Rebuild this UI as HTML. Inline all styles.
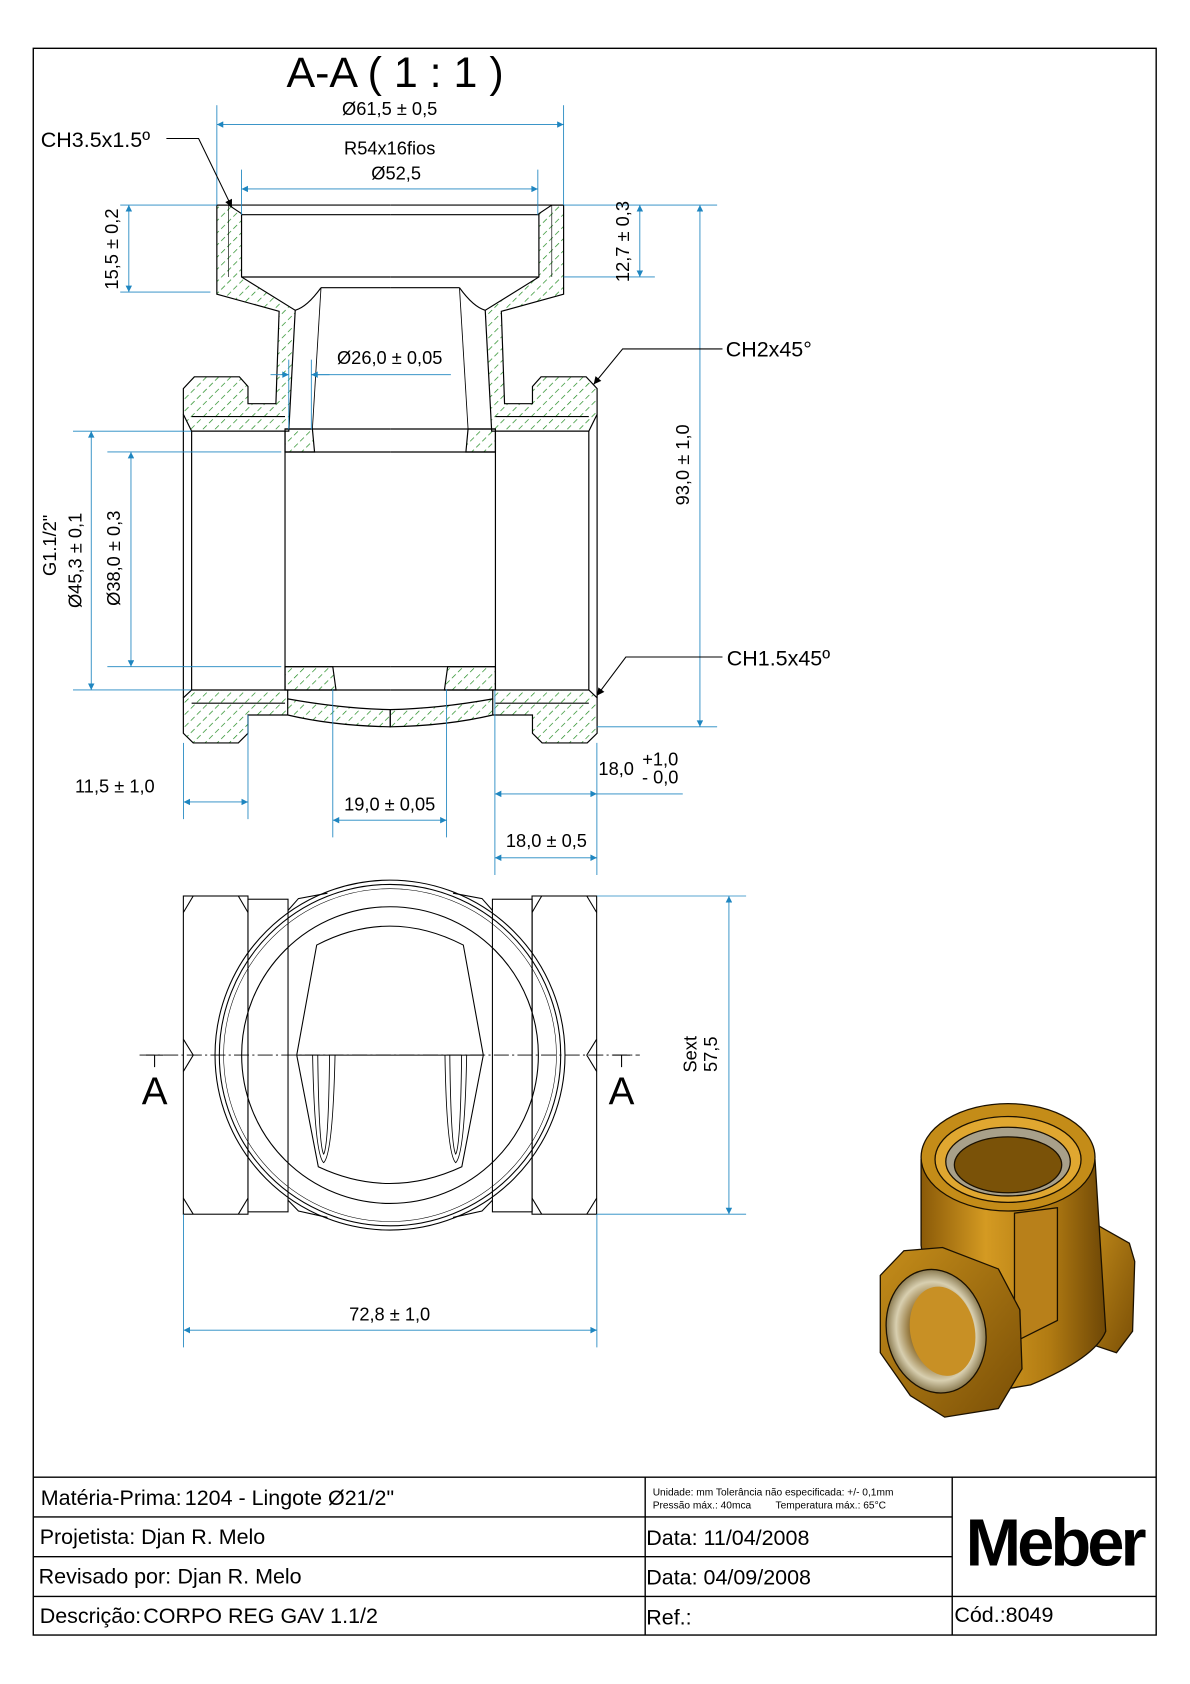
<!DOCTYPE html>
<html><head><meta charset="utf-8"><style>
html,body{margin:0;padding:0;background:#fff;}
svg{display:block;}
text{font-family:"Liberation Sans",sans-serif;}
</style></head><body>
<svg width="1190" height="1684" viewBox="0 0 1108.5 1568.6" preserveAspectRatio="none" xmlns="http://www.w3.org/2000/svg">
<defs>
<pattern id="hatch" patternUnits="userSpaceOnUse" width="8" height="8" patternTransform="rotate(45)">
<line x1="0" y1="0" x2="0" y2="8" stroke="#1f8a1f" stroke-width="1.3" stroke-dasharray="5 3"/>
</pattern>
<marker id="ar" viewBox="0 0 10 10" refX="10" refY="5" markerWidth="11" markerHeight="6" markerUnits="userSpaceOnUse" orient="auto-start-reverse">
<path d="M0,0 L10,5 L0,10 z" fill="#1f86c0"/>
</marker>
<marker id="ak" viewBox="0 0 10 10" refX="10" refY="5" markerWidth="13" markerHeight="7" markerUnits="userSpaceOnUse" orient="auto">
<path d="M0,0 L10,5 L0,10 z" fill="#000"/>
</marker>
<polygon id="p1" points="202,191 213,191 225,199 225,258 275,289 269,401.6 178.5,401.6 170.8,386 170.8,362 181,351 223,351 231,360 231,376 257,376 260,290 202,274"/>
<polygon id="p2" points="265.5,399.6 291,399.6 293,421 265.5,421"/>
<polygon id="p3" points="265.5,621 310,621 313,642.7 265.5,642.7"/>
<path id="p4" d="M170.8,650 L178.5,642.7 L268,642.7 L268,651 Q318,660 363.5,661 L363.5,677 Q310,676 268,666 L231,666 L231,683 L222,692 L180,692 L170.8,683 Z"/>
<clipPath id="hc">
<use href="#p1"/><use href="#p2"/><use href="#p3"/><use href="#p4"/>
<use href="#p1" transform="translate(727,0) scale(-1,1)"/>
<use href="#p2" transform="translate(727,0) scale(-1,1)"/>
<use href="#p3" transform="translate(727,0) scale(-1,1)"/>
<use href="#p4" transform="translate(727,0) scale(-1,1)"/>
</clipPath>
<linearGradient id="gold" x1="0" y1="0" x2="1" y2="0">
<stop offset="0" stop-color="#8a5a08"/><stop offset="0.35" stop-color="#d49a22"/><stop offset="0.7" stop-color="#b07a12"/><stop offset="1" stop-color="#6e4706"/>
</linearGradient>
<linearGradient id="gold2" x1="0" y1="0" x2="1" y2="1">
<stop offset="0" stop-color="#c58d1a"/><stop offset="1" stop-color="#7a4f06"/>
</linearGradient>
<radialGradient id="thr" cx="0.5" cy="0.5" r="0.5">
<stop offset="0.5" stop-color="#8b6a2a"/><stop offset="0.8" stop-color="#d8cfb0"/><stop offset="1" stop-color="#8a7a50"/>
</radialGradient>
</defs>

<rect x="31" y="45" width="1046" height="1478" fill="none" stroke="#000" stroke-width="1.3"/>

<text x="368" y="81" font-size="40" text-anchor="middle">A-A ( 1 : 1 )</text>

<rect x="150" y="180" width="430" height="520" fill="url(#hatch)" clip-path="url(#hc)"/>

<g id="L" fill="none" stroke="#000" stroke-width="1.1">
<use href="#p1"/><use href="#p2"/><use href="#p3"/><use href="#p4"/>
<line x1="213" y1="191" x2="213" y2="258" stroke-width="0.6"/>
<line x1="202" y1="191" x2="363.5" y2="191"/>
<line x1="225" y1="200" x2="363.5" y2="200"/>
<line x1="225" y1="258" x2="363.5" y2="258"/>
<line x1="299" y1="268" x2="363.5" y2="268"/>
<line x1="299" y1="268" x2="291" y2="399.6" stroke-width="0.8"/>
<path d="M275,289 Q286,286 299,268"/>
<line x1="178.5" y1="388" x2="265.5" y2="388"/>
<line x1="265.5" y1="399.6" x2="363.5" y2="399.6"/>
<line x1="265.5" y1="421" x2="363.5" y2="421"/>
<line x1="265.5" y1="621" x2="363.5" y2="621"/>
<line x1="265.5" y1="401.6" x2="265.5" y2="642.7"/>
<line x1="178.5" y1="401.6" x2="178.5" y2="642.7"/>
<line x1="170.8" y1="386" x2="170.8" y2="650"/>
<line x1="178.5" y1="655" x2="265.5" y2="655"/>
<line x1="268" y1="642.7" x2="363.5" y2="642.7"/>
<line x1="268" y1="651" x2="268" y2="666"/>
</g>
<use href="#L" transform="translate(727,0) scale(-1,1)"/>

<g stroke="#1f86c0" stroke-width="0.8" fill="none">
<line x1="202" y1="98" x2="202" y2="191"/><line x1="525" y1="98" x2="525" y2="191"/>
<line x1="202" y1="116" x2="525" y2="116" marker-start="url(#ar)" marker-end="url(#ar)"/>
<line x1="225" y1="158" x2="225" y2="200"/><line x1="501" y1="158" x2="501" y2="200"/>
<line x1="225" y1="176" x2="501" y2="176" marker-start="url(#ar)" marker-end="url(#ar)"/>
<line x1="112" y1="191" x2="202" y2="191"/><line x1="112" y1="272" x2="196" y2="272"/>
<line x1="120" y1="191" x2="120" y2="272" marker-start="url(#ar)" marker-end="url(#ar)"/>
<line x1="525" y1="191" x2="668" y2="191"/><line x1="525" y1="258" x2="610" y2="258"/>
<line x1="596" y1="191" x2="596" y2="258" marker-start="url(#ar)" marker-end="url(#ar)"/>
<line x1="556" y1="677" x2="668" y2="677"/>
<line x1="652" y1="191" x2="652" y2="677" marker-start="url(#ar)" marker-end="url(#ar)"/>
<line x1="269" y1="335" x2="269" y2="400"/><line x1="290" y1="335" x2="290" y2="400"/>
<line x1="252" y1="349" x2="269" y2="349" marker-end="url(#ar)"/>
<line x1="307" y1="349" x2="290" y2="349" marker-end="url(#ar)"/>
<line x1="290" y1="349" x2="420" y2="349"/>
<line x1="68" y1="401.6" x2="178" y2="401.6"/><line x1="68" y1="642.7" x2="178" y2="642.7"/>
<line x1="85" y1="401.6" x2="85" y2="642.7" marker-start="url(#ar)" marker-end="url(#ar)"/>
<line x1="100" y1="421" x2="262" y2="421"/><line x1="100" y1="621" x2="262" y2="621"/>
<line x1="122" y1="421" x2="122" y2="621" marker-start="url(#ar)" marker-end="url(#ar)"/>
<line x1="171" y1="692" x2="171" y2="763"/><line x1="231" y1="666" x2="231" y2="763"/>
<line x1="171" y1="747" x2="231" y2="747" marker-start="url(#ar)" marker-end="url(#ar)"/>
<line x1="310" y1="642" x2="310" y2="780"/><line x1="416" y1="642" x2="416" y2="780"/>
<line x1="310" y1="764" x2="416" y2="764" marker-start="url(#ar)" marker-end="url(#ar)"/>
<line x1="461" y1="643" x2="461" y2="815"/><line x1="556" y1="692" x2="556" y2="815"/>
<line x1="461" y1="739.5" x2="556" y2="739.5" marker-start="url(#ar)" marker-end="url(#ar)"/>
<line x1="556" y1="739.5" x2="636" y2="739.5"/>
<line x1="461" y1="799" x2="556" y2="799" marker-start="url(#ar)" marker-end="url(#ar)"/>
</g>
<g font-size="17" fill="#000">
<text x="363" y="107" text-anchor="middle">Ø61,5 ± 0,5</text>
<text x="363" y="144" text-anchor="middle">R54x16fios</text>
<text x="369" y="167" text-anchor="middle">Ø52,5</text>
<text x="38" y="137" font-size="20">CH3.5x1.5º</text>
<text transform="translate(110,232) rotate(-90)" text-anchor="middle">15,5 ± 0,2</text>
<text transform="translate(586,225) rotate(-90)" text-anchor="middle">12,7 ± 0,3</text>
<text transform="translate(642,433) rotate(-90)" text-anchor="middle">93,0 ± 1,0</text>
<text x="676" y="332" font-size="20">CH2x45°</text>
<text x="677" y="620" font-size="20">CH1.5x45º</text>
<text x="363" y="339" text-anchor="middle">Ø26,0 ± 0,05</text>
<text transform="translate(52,508) rotate(-90)" text-anchor="middle">G1.1/2"</text>
<text transform="translate(76,522) rotate(-90)" text-anchor="middle">Ø45,3 ± 0,1</text>
<text transform="translate(112,520) rotate(-90)" text-anchor="middle">Ø38,0 ± 0,3</text>
<text x="107" y="738" text-anchor="middle">11,5 ± 1,0</text>
<text x="363" y="755" text-anchor="middle">19,0 ± 0,05</text>
<text x="574" y="722" text-anchor="middle">18,0</text>
<text x="615" y="713" text-anchor="middle">+1,0</text>
<text x="615" y="730" text-anchor="middle">- 0,0</text>
<text x="509" y="789" text-anchor="middle">18,0 ± 0,5</text>
</g>
<g stroke="#000" stroke-width="1" fill="none">
<polyline points="155,129 185,129 216,193" marker-end="url(#ak)"/>
<polyline points="673,325 580,325 553,358" marker-end="url(#ak)"/>
<polyline points="673,612 583,612 556,648" marker-end="url(#ak)"/>
</g>

<g fill="none" stroke="#000" stroke-width="1">
<rect x="170.8" y="834.6" width="60.2" height="296.4"/>
<rect x="495.6" y="834.6" width="60.2" height="296.4"/>
<rect x="231" y="837.6" width="37.3" height="291.2"/>
<rect x="458.7" y="837.6" width="37" height="291.2"/>
<path d="M180,834.6 L170.8,850 M170.8,968 L180,982.8 L170.8,998 M170.8,1116 L180,1131 M222,834.6 L231,850 M231,1116 L222,1131"/>
<path d="M546.6,834.6 L555.8,850 M555.8,968 L546.6,982.8 L555.8,998 M555.8,1116 L546.6,1131 M504.6,834.6 L495.6,850 M495.6,1116 L504.6,1131"/>
<path d="M268.3,848 L278,837 L305,832 M458.7,848 L449,837 L422,832 M268.3,1118 L278,1128 L305,1134 M458.7,1118 L449,1128 L422,1134"/>
<circle cx="363.3" cy="982.8" r="163"/>
<circle cx="363.3" cy="982.8" r="159"/>
<circle cx="363.3" cy="982.8" r="155" stroke-width="0.5"/>
<circle cx="363.3" cy="982.8" r="138.2"/>
<path d="M295,880.3 Q363,845 431.6,880.3 L450.2,982.8 L430.2,1086.8 Q363,1118 296.5,1086.8 L276.4,982.8 Z"/>
<path d="M291.2,982.8 Q293,1075 301.5,1083 Q310,1075 312.1,982.8 M296,982.8 Q297,1068 301.5,1075 Q306,1068 307,982.8" stroke-width="0.8"/>
<path d="M414.5,982.8 Q416,1075 424.5,1083 Q433,1075 434.7,982.8 M419,982.8 Q420,1068 424.5,1075 Q429,1068 430,982.8" stroke-width="0.8"/>
<line x1="276.4" y1="982.8" x2="450.2" y2="982.8"/>
<line x1="130" y1="982.8" x2="596" y2="982.8" stroke-width="0.8" stroke-dasharray="14 3 2 3"/>
<path d="M136,982.8 H152 M144,982.8 V994 M571,982.8 H587 M579,982.8 V994"/>
</g>
<text x="144" y="1029" font-size="36" text-anchor="middle">A</text>
<text x="579" y="1029" font-size="36" text-anchor="middle">A</text>
<g stroke="#1f86c0" stroke-width="0.8" fill="none">
<line x1="556" y1="834.6" x2="695" y2="834.6"/><line x1="556" y1="1131" x2="695" y2="1131"/>
<line x1="679" y1="834.6" x2="679" y2="1131" marker-start="url(#ar)" marker-end="url(#ar)"/>
<line x1="171" y1="1131" x2="171" y2="1255"/><line x1="556" y1="1131" x2="556" y2="1255"/>
<line x1="171" y1="1239" x2="556" y2="1239" marker-start="url(#ar)" marker-end="url(#ar)"/>
</g>
<g font-size="17">
<text transform="translate(649,982) rotate(-90)" text-anchor="middle">Sext</text>
<text transform="translate(668,982) rotate(-90)" text-anchor="middle">57,5</text>
<text x="363" y="1230" text-anchor="middle">72,8 ± 1,0</text>
</g>

<g stroke="#1a1000" stroke-width="1.2">
<path d="M1020,1140 L1052,1158 L1057,1175 L1055,1240 L1040,1260 L1010,1250 Z" fill="url(#gold2)"/>
<path d="M858,1080 L858,1160 Q870,1250 900,1300 L960,1290 Q1020,1265 1030,1240 L1020,1080 Z" fill="url(#gold)"/>
<ellipse cx="939" cy="1078" rx="81" ry="50" fill="#c48c18"/>
<ellipse cx="939" cy="1080" rx="68" ry="40" fill="#e0a730"/>
<ellipse cx="939" cy="1082" rx="58" ry="32" fill="#a8a08a"/>
<ellipse cx="939" cy="1085" rx="50" ry="26" fill="#7a5208"/>
<path d="M985,1125 L985,1230 L945,1250 L945,1130 Z" fill="#b8801a"/>
<path d="M820,1188 L842,1165 L878,1162 L930,1182 L950,1220 L952,1275 L930,1312 L880,1320 L848,1300 L820,1260 Z" fill="url(#gold2)"/>
<ellipse cx="872" cy="1240" rx="46" ry="58" transform="rotate(-12 872 1240)" fill="url(#thr)"/>
<ellipse cx="878" cy="1240" rx="30" ry="42" transform="rotate(-12 878 1240)" fill="#c89025" stroke="none"/>
</g>

<g stroke="#000" stroke-width="1.3" fill="none">
<line x1="31" y1="1376" x2="1077" y2="1376"/>
<line x1="31" y1="1413" x2="887" y2="1413"/>
<line x1="31" y1="1450" x2="887" y2="1450"/>
<line x1="31" y1="1487" x2="1077" y2="1487"/>
<line x1="601" y1="1376" x2="601" y2="1523"/>
<line x1="887" y1="1376" x2="887" y2="1523"/>
</g>
<g font-size="20">
<text x="38" y="1402">Matéria-Prima:<tspan dx="3">1204 - Lingote Ø21/2"</tspan></text>
<text x="37" y="1438">Projetista: <tspan>Djan R. Melo</tspan></text>
<text x="36" y="1475">Revisado por:<tspan dx="6">Djan R. Melo</tspan></text>
<text x="37" y="1512">Descrição:<tspan dx="2">CORPO REG GAV 1.1/2</tspan></text>
<text x="602" y="1439">Data: 11/04/2008</text>
<text x="602" y="1476">Data: 04/09/2008</text>
<text x="602" y="1513">Ref.:</text>
<text x="889" y="1511">Cód.:<tspan font-size="20">8049</tspan></text>
</g>
<text x="608" y="1393" font-size="9.5">Unidade: mm Tolerância não especificada: +/- 0,1mm</text>
<text x="608" y="1405" font-size="9.5">Pressão máx.: 40mca <tspan dx="20">Temperatura máx.: 65°C</tspan></text>
<text x="982" y="1458" font-size="62" font-weight="bold" text-anchor="middle" letter-spacing="-3.5">Meber</text>
</svg>
</body></html>
